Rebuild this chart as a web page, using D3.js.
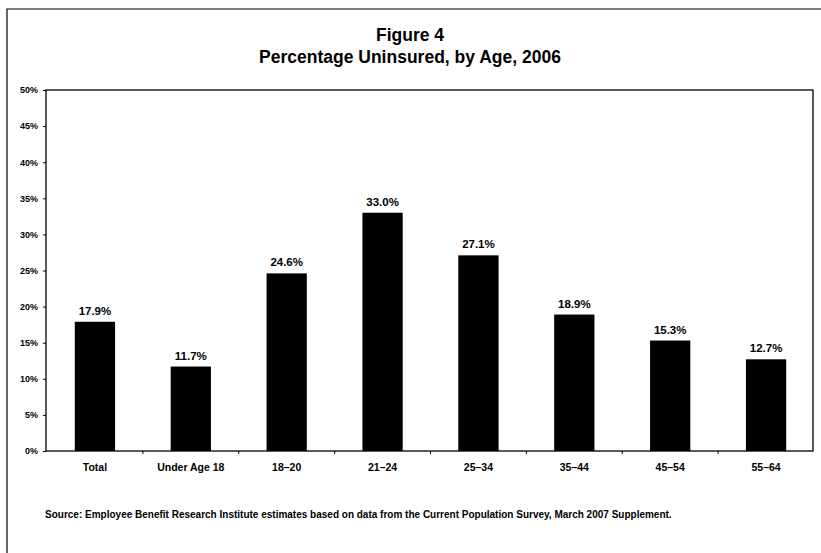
<!DOCTYPE html>
<html>
<head>
<meta charset="utf-8">
<script src="https://cdn.jsdelivr.net/npm/d3@7/dist/d3.min.js"></script>
<style>
  html, body { margin: 0; padding: 0; background: #fff; }
  svg text { font-family: "Liberation Sans", Arial, sans-serif; font-weight: bold; fill: #000; }
</style>
</head>
<body>
<script>
// Uninsured share by age group, 2006
const categories = ["Total", "Under Age 18", "18\u201320", "21\u201324", "25\u201334", "35\u201344", "45\u201354", "55\u201364"];
const values = [17.9, 11.7, 24.6, 33.0, 27.1, 18.9, 15.3, 12.7];
const yTicks = [0, 5, 10, 15, 20, 25, 30, 35, 40, 45, 50];
const titleLines = ["Figure 4", "Percentage Uninsured, by Age, 2006"];
const sourceNote = "Source: Employee Benefit Research Institute estimates based on data from the Current Population Survey, March 2007 Supplement.";

const W = 821, H = 553;
const plot = { left: 46, right: 813, top: 90, bottom: 451 };

const svg = d3.select("body").append("svg")
  .attr("width", W).attr("height", H);

// Page frame (left and top edges)
svg.append("path")
  .attr("d", `M7,${H} V9 H${W}`)
  .attr("fill", "none").attr("stroke", "#000").attr("stroke-width", 1.2);

// Titles
svg.selectAll("text.title").data(titleLines).join("text")
  .attr("class", "title")
  .attr("x", 410).attr("y", (d, i) => 41 + i * 22)
  .attr("text-anchor", "middle")
  .attr("font-size", 17.5)
  .text(d => d);

const x = d3.scaleBand().domain(categories)
  .range([plot.left + 1, plot.right + 1]).paddingInner(0.58).paddingOuter(0.29);
const y = d3.scaleLinear().domain([0, 50]).range([plot.bottom, plot.top]);

// Plot area border
svg.append("rect")
  .attr("x", plot.left).attr("y", plot.top)
  .attr("width", plot.right - plot.left).attr("height", plot.bottom - plot.top)
  .attr("fill", "none").attr("stroke", "#000").attr("stroke-width", 1.3);

// Bars
svg.selectAll("rect.bar").data(values).join("rect")
  .attr("class", "bar")
  .attr("x", (d, i) => x(categories[i]))
  .attr("width", x.bandwidth())
  .attr("y", d => y(d))
  .attr("height", d => y(0) - y(d))
  .attr("fill", "#000");

// Value labels
svg.selectAll("text.val").data(values).join("text")
  .attr("class", "val")
  .attr("x", (d, i) => x(categories[i]) + x.bandwidth() / 2)
  .attr("y", d => y(d) - 7)
  .attr("text-anchor", "middle")
  .attr("font-size", 11.5)
  .text(d => d.toFixed(1) + "%");

// Y axis
const yAxis = d3.axisLeft(y).tickValues(yTicks).tickSize(3).tickFormat(d => d + "%");
const gy = svg.append("g").attr("transform", `translate(${plot.left},0)`).call(yAxis);
gy.select(".domain").remove();
gy.selectAll("line").attr("stroke", "#000");
gy.selectAll("text").attr("font-size", 9).attr("font-family", "Liberation Sans, Arial, sans-serif").attr("dx", -2);

// X axis: ticks at category boundaries, labels centred under bars
const step = x.step();
const boundaries = d3.range(1, categories.length).map(i => x(categories[i]) - (step - x.bandwidth()) / 2);
svg.selectAll("line.xtick").data(boundaries).join("line")
  .attr("class", "xtick")
  .attr("x1", d => d).attr("x2", d => d)
  .attr("y1", plot.bottom).attr("y2", plot.bottom + 3)
  .attr("stroke", "#000");

svg.selectAll("text.cat").data(categories).join("text")
  .attr("class", "cat")
  .attr("x", d => x(d) + x.bandwidth() / 2)
  .attr("y", plot.bottom + 20)
  .attr("text-anchor", "middle")
  .attr("font-size", 10.5)
  .text(d => d);

// Source note
svg.append("text")
  .attr("x", 45).attr("y", 518)
  .attr("font-size", 10)
  .text(sourceNote);
</script>
</body>
</html>
